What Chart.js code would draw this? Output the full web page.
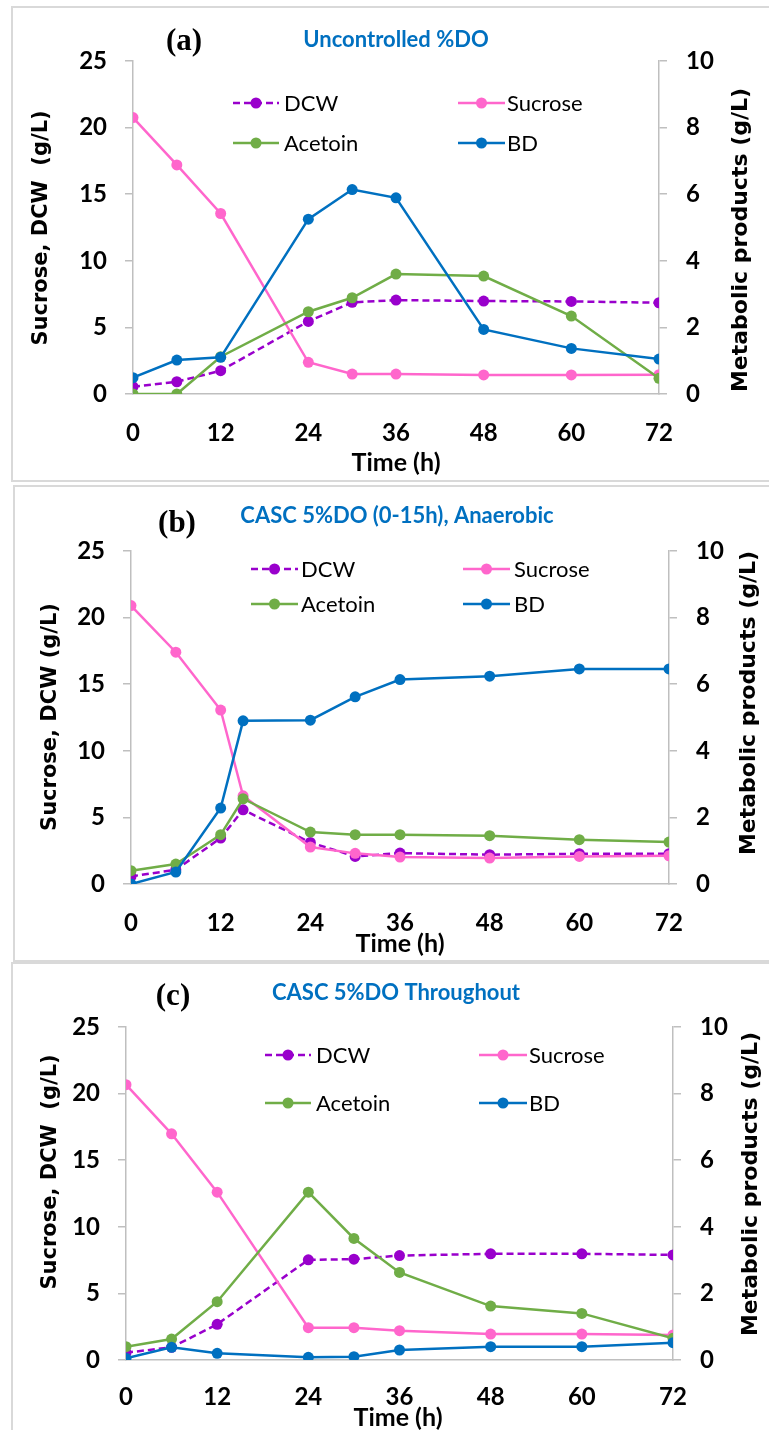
<!DOCTYPE html>
<html><head><meta charset="utf-8">
<script src="https://cdn.jsdelivr.net/npm/chart.js@4"></script>
<style>
html,body{margin:0;padding:0;background:#fff;width:769px;height:1430px;overflow:hidden;position:relative}
.panel{position:absolute;box-sizing:border-box;border:2px solid #D9D9D9;width:820px}
canvas{position:absolute;left:0}
</style></head><body>
<div class="panel" style="left:11px;top:6px;height:476px"></div>
<div class="panel" style="left:13px;top:485px;height:477px"></div>
<div class="panel" style="left:11px;top:962px;height:520px"></div>
<canvas id="ca" width="769" height="482" style="top:0px"></canvas>
<canvas id="cb" width="769" height="477" style="top:484px"></canvas>
<canvas id="cc" width="769" height="469" style="top:961px"></canvas>
<script>
// ---- data ----
const xTicks = [0, 12, 24, 36, 48, 60, 72];
const leftTicks = [0, 5, 10, 15, 20, 25];
const rightTicks = [0, 2, 4, 6, 8, 10];
const seriesNames = ['DCW', 'Sucrose', 'Acetoin', 'BD'];

const timeA = [0, 6, 12, 24, 30, 36, 48, 60, 72];
const dcwA = [0.55, 0.92, 1.75, 5.45, 6.88, 7.05, 6.98, 6.95, 6.85];
const sucroseA = [20.75, 17.2, 13.55, 2.38, 1.5, 1.5, 1.43, 1.43, 1.45];
const acetoinA = [0, 0, 1.12, 2.47, 2.89, 3.6, 3.54, 2.34, 0.47];
const bdA = [0.49, 1.02, 1.1, 5.25, 6.14, 5.89, 1.94, 1.37, 1.05];

const timeB = [0, 6, 12, 15, 24, 30, 36, 48, 60, 72];
const dcwB = [0.57, 1.07, 3.45, 5.57, 3.12, 2.07, 2.32, 2.2, 2.27, 2.27];
const sucroseB = [20.9, 17.4, 13.06, 6.62, 2.77, 2.3, 2.02, 1.95, 2.07, 2.12];
const acetoinB = [0.4, 0.6, 1.48, 2.56, 1.56, 1.48, 1.48, 1.45, 1.33, 1.26];
const bdB = [0, 0.36, 2.28, 4.9, 4.92, 5.62, 6.14, 6.24, 6.46, 6.46];

const timeC = [0, 6, 12, 24, 30, 36, 48, 60, 72];
const dcwC = [0.55, 0.95, 2.68, 7.52, 7.57, 7.84, 7.97, 7.97, 7.89];
const sucroseC = [20.67, 16.98, 12.6, 2.43, 2.43, 2.2, 1.95, 1.95, 1.88];
const acetoinC = [0.4, 0.63, 1.75, 5.04, 3.65, 2.63, 1.62, 1.4, 0.65];
const bdC = [0.05, 0.38, 0.2, 0.08, 0.1, 0.3, 0.4, 0.4, 0.52];

// ---- styles ----
const COLORS = {DCW:'#9900CC', Sucrose:'#FF66CC', Acetoin:'#70AD47', BD:'#0070C0'};
const TICK_FONT = {family:'Lato', size:24, weight:'bold'};
const AXIS_GRAY = '#BFBFBF';

function pts(t, v){ return t.map((x,i)=>({x:x, y:v[i]})); }

function makeDatasets(t, dcw, suc, ace, bd){
  const base = (label, data, axis, order) => ({
    label, data: pts(t, data), yAxisID: axis, order,
    borderColor: COLORS[label], backgroundColor: COLORS[label],
    pointBackgroundColor: COLORS[label], pointBorderColor: COLORS[label],
    borderWidth: 2.5, pointRadius: 5.5, pointBorderWidth: 0, tension: 0, fill:false
  });
  const d = base('DCW', dcw, 'yL', 4); d.borderDash = [7,4];
  return [d, base('Sucrose', suc, 'yL', 3), base('Acetoin', ace, 'yR', 2), base('BD', bd, 'yR', 1)];
}

function textPlugin(cfg){
  return {
    id:'panelText',
    afterDraw(chart){
      const ctx = chart.ctx;
      ctx.save();
      ctx.textBaseline = 'middle';
      ctx.fillStyle = '#000';
      // panel letter
      ctx.font = 'bold 31px "Liberation Serif"';
      ctx.textAlign = 'center';
      ctx.fillText(cfg.letter, cfg.letterPos[0], cfg.letterPos[1]);
      // coloured title
      ctx.font = 'bold 22px Lato';
      ctx.fillStyle = '#0070C0';
      ctx.fillText(cfg.title, cfg.titlePos[0], cfg.titlePos[1]);
      // x title
      ctx.fillStyle = '#000';
      ctx.font = 'bold 25px Lato';
      ctx.fillText('Time (h)', cfg.xTitle[0], cfg.xTitle[1]);
      // y titles
      ctx.font = 'bold 21px "DejaVu Sans"';
      const rot = (txt, x, y) => { ctx.save(); ctx.translate(x,y); ctx.rotate(-Math.PI/2); ctx.fillText(txt,0,0); ctx.restore(); };
      rot(cfg.leftTitle, cfg.leftPos[0], cfg.leftPos[1]);
      ctx.font = 'bold 22px "DejaVu Sans"';
      rot('Metabolic products (g/L)', cfg.rightPos[0], cfg.rightPos[1]);
      // legend
      ctx.font = '22px Lato';
      ctx.textAlign = 'left';
      const ds = chart.data.datasets;
      const cols = cfg.legend.cols, rows = cfg.legend.rows;
      ds.forEach((d, i) => {
        const idx = seriesNames.indexOf(d.label);
        const col = cols[idx % 2], y = rows[Math.floor(idx / 2)];
        ctx.strokeStyle = d.borderColor; ctx.lineWidth = 2.5;
        ctx.setLineDash(d.borderDash || []);
        ctx.beginPath(); ctx.moveTo(col[0], y); ctx.lineTo(col[1], y); ctx.stroke();
        ctx.setLineDash([]);
        ctx.fillStyle = d.borderColor;
        ctx.beginPath(); ctx.arc((col[0]+col[1])/2, y, 5.5, 0, Math.PI*2); ctx.fill();
        ctx.fillStyle = '#000';
        ctx.fillText(d.label, col[2], y + 1);
      });
      ctx.restore();
    }
  };
}

function makeChart(id, datasets, geo, cfg){
  const setTicks = arr => s => { s.ticks = arr.map(v => ({value:v})); };
  return new Chart(document.getElementById(id), {
    type:'line',
    data:{datasets},
    plugins:[textPlugin(cfg)],
    options:{
      responsive:false, animation:false, events:[],
      layout:{padding:{top:geo.top, left:0, right:0, bottom:0}},
      plugins:{legend:{display:false}, title:{display:false}, tooltip:{enabled:false}},
      scales:{
        x:{type:'linear', min:0, max:72, afterBuildTicks:setTicks(xTicks),
           grid:{display:true, drawOnChartArea:false, drawTicks:false},
           border:{display:true, color:AXIS_GRAY, width:1.5},
           ticks:{font:TICK_FONT, color:'#000', padding:geo.xPad, maxRotation:0, autoSkip:false},
           afterFit:s=>{s.height = geo.xH;}},
        yL:{type:'linear', position:'left', min:0, max:25, afterBuildTicks:setTicks(leftTicks),
           grid:{drawOnChartArea:false, drawTicks:true, tickLength:8, color:AXIS_GRAY, lineWidth:1.5},
           border:{display:true, color:AXIS_GRAY, width:1.5},
           ticks:{font:TICK_FONT, color:'#000', padding:18},
           afterFit:s=>{s.width = geo.left;}},
        yR:{type:'linear', position:'right', min:0, max:10, afterBuildTicks:setTicks(rightTicks),
           grid:{drawOnChartArea:false, drawTicks:true, tickLength:8, color:AXIS_GRAY, lineWidth:1.5},
           border:{display:true, color:AXIS_GRAY, width:1.5},
           ticks:{font:TICK_FONT, color:'#000', padding:19},
           afterFit:s=>{s.width = 769 - geo.right;}}
      }
    }
  });
}

makeChart('ca', makeDatasets(timeA, dcwA, sucroseA, acetoinA, bdA),
  {top:61, left:133, right:659, xH:482-394, xPad:25},
  {letter:'(a)', letterPos:[184,42], title:'Uncontrolled %DO', titlePos:[396,40],
   xTitle:[396,463], leftTitle:'Sucrose, DCW  (g/L)', leftPos:[42,228], rightPos:[741,240],
   legend:{rows:[103,143], cols:[[233,279,284],[458,505,507]]}});

makeChart('cb', makeDatasets(timeB, dcwB, sucroseB, acetoinB, bdB),
  {top:67, left:131, right:669, xH:477-400, xPad:24.5},
  {letter:'(b)', letterPos:[177,40], title:'CASC 5%DO (0-15h), Anaerobic', titlePos:[397,32],
   xTitle:[400,460], leftTitle:'Sucrose, DCW (g/L)', leftPos:[51,233], rightPos:[749,219],
   legend:{rows:[85,120], cols:[[251,298,301],[463,510,514]]}});

makeChart('cc', makeDatasets(timeC, dcwC, sucroseC, acetoinC, bdC),
  {top:66, left:126, right:673, xH:469-399, xPad:23},
  {letter:'(c)', letterPos:[173,36], title:'CASC 5%DO Throughout', titlePos:[396,32],
   xTitle:[398,457], leftTitle:'Sucrose, DCW  (g/L)', leftPos:[51,211], rightPos:[751,223],
   legend:{rows:[94,142], cols:[[265,311,316],[479,527,529]]}});
</script>
</body></html>
